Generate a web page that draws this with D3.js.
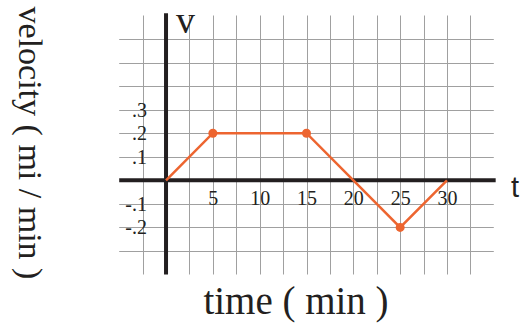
<!DOCTYPE html>
<html>
<head>
<meta charset="utf-8">
<script src="https://cdnjs.cloudflare.com/ajax/libs/d3/7.8.5/d3.min.js"></script>
<style>
  body { margin: 0; background: #fff; }
  svg { display: block; }
</style>
</head>
<body>
<div id="chart"></div>
<script>
// data
const timeMin = [0, 5, 15, 25, 30];
const velocity = [0, 0.2, 0.2, -0.2, 0];
const dotTimes = [5, 15, 25];
const xTicks = [5, 10, 15, 20, 25, 30];
const yTicks = [0.3, 0.2, 0.1, -0.1, -0.2];
const yTickLabels = [".3", ".2", ".1", "-.1", "-.2"];

const width = 521, height = 324;

const svg = d3.select("#chart").append("svg")
    .attr("width", width)
    .attr("height", height);

// scales: t from -5..35, v from -0.4..0.7
const x = d3.scaleLinear().domain([-5, 35]).range([119.2, 493.8]);
const y = d3.scaleLinear().domain([-0.4, 0.7]).range([274.5, 15.5]);

// grid
const grid = svg.append("g").attr("stroke", "#a0a0a0").attr("stroke-width", 1);
grid.selectAll(".vg")
    .data(d3.range(-2.5, 33, 2.5).filter(d => d !== 0))
    .enter().append("line")
    .attr("x1", d => Math.round(x(d)) + 0.5)
    .attr("x2", d => Math.round(x(d)) + 0.5)
    .attr("y1", y(0.7))
    .attr("y2", y(-0.4));
grid.selectAll(".hg")
    .data(d3.range(-3, 7).map(d => d / 10).filter(d => d !== 0))
    .enter().append("line")
    .attr("y1", d => Math.round(y(d)) + 0.5)
    .attr("y2", d => Math.round(y(d)) + 0.5)
    .attr("x1", x(-5))
    .attr("x2", x(35));

// main axes
svg.append("line")
    .attr("x1", x(-5)).attr("x2", x(35.2))
    .attr("y1", y(0)).attr("y2", y(0))
    .attr("stroke", "#231f20").attr("stroke-width", 4);
svg.append("line")
    .attr("x1", x(0)).attr("x2", x(0))
    .attr("y1", y(0.71)).attr("y2", y(-0.4))
    .attr("stroke", "#231f20").attr("stroke-width", 4);

// tick labels
const xAxis = svg.append("g")
    .attr("transform", "translate(0," + y(0) + ")")
    .call(d3.axisBottom(x).tickValues(xTicks).tickSize(0).tickPadding(10));
xAxis.select(".domain").remove();

const yAxis = svg.append("g")
    .attr("transform", "translate(150,0)")
    .call(d3.axisLeft(y).tickValues(yTicks).tickSize(0).tickPadding(3)
        .tickFormat((d, i) => yTickLabels[i]));
yAxis.select(".domain").remove();

svg.selectAll(".tick text")
    .attr("fill", "#231f20")
    .style("font-family", "'Liberation Serif', serif")
    .style("font-size", "20px");

// the velocity line
const line = d3.line()
    .x((d, i) => x(timeMin[i]))
    .y((d, i) => y(velocity[i]));

svg.append("path")
    .datum(timeMin)
    .attr("d", line)
    .attr("fill", "none")
    .attr("stroke", "#ed6530")
    .attr("stroke-width", 2.5);

svg.selectAll(".dot")
    .data(dotTimes)
    .enter().append("circle")
    .attr("cx", d => x(d))
    .attr("cy", d => y(velocity[timeMin.indexOf(d)]))
    .attr("r", 4.5)
    .attr("fill", "#ed6530");

// axis letters
svg.append("text")
    .attr("x", 176).attr("y", 33)
    .style("font-family", "'Liberation Serif', serif")
    .style("font-size", "38px")
    .attr("fill", "#231f20")
    .text("v");

svg.append("text")
    .attr("x", 511).attr("y", 197)
    .style("font-family", "'Liberation Sans', sans-serif")
    .style("font-size", "29px")
    .attr("fill", "#231f20")
    .text("t");

// titles
svg.append("text")
    .attr("transform", "translate(19,143) rotate(90)")
    .attr("text-anchor", "middle")
    .style("font-family", "'Liberation Serif', serif")
    .style("font-size", "34px")
    .attr("fill", "#231f20")
    .text("velocity ( mi / min )");

svg.append("text")
    .attr("x", 296).attr("y", 314)
    .attr("text-anchor", "middle")
    .style("font-family", "'Liberation Serif', serif")
    .style("font-size", "39px")
    .attr("fill", "#231f20")
    .text("time ( min )");
</script>
</body>
</html>
